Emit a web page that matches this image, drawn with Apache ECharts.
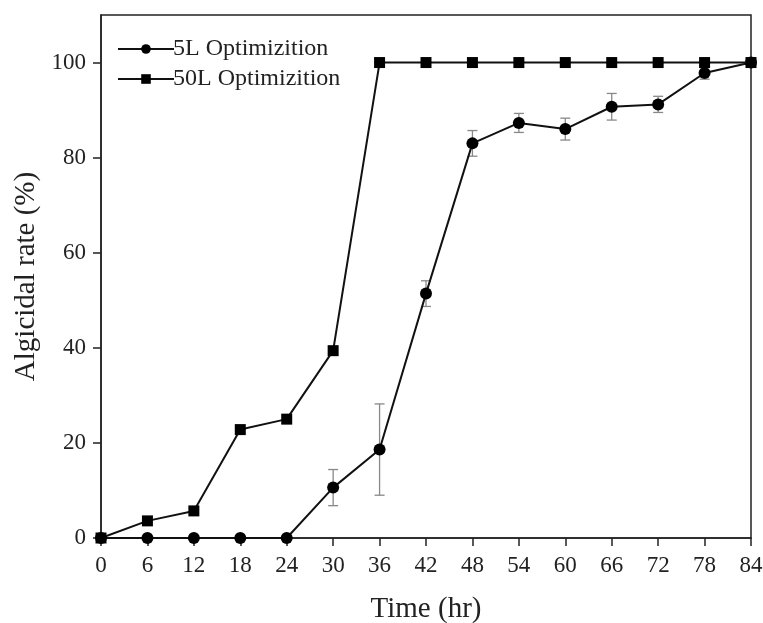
<!DOCTYPE html>
<html>
<head>
<meta charset="utf-8">
<script src="https://cdn.jsdelivr.net/npm/echarts@6/dist/echarts.min.js"></script>
<style>html,body{margin:0;padding:0;background:#fff;}#c{width:763px;height:623px;}</style>
</head>
<body>
<div id="c"></div>
<script>
var times = [0, 6, 12, 18, 24, 30, 36, 42, 48, 54, 60, 66, 72, 78, 84];
var rate5L = [0, 0, 0, 0, 0, 10.6, 18.6, 51.4, 83.0, 87.3, 86.0, 90.7, 91.2, 97.8, 100];
var err5L = [0, 0, 0, 0, 0, 3.8, 9.6, 2.7, 2.7, 2.0, 2.3, 2.8, 1.7, 1.3, 0];
var rate50L = [0, 3.6, 5.7, 22.8, 25.0, 39.4, 100, 100, 100, 100, 100, 100, 100, 100, 100];
var seriesNames = ['5L Optimizition', '50L Optimizition'];
var yTicks = [0, 20, 40, 60, 80, 100];

var FONT = '"Liberation Serif", "DejaVu Serif", serif';
var chart = echarts.init(document.getElementById('c'));

function pairs(xs, ys) { return xs.map(function (x, i) { return [x, ys[i]]; }); }
var errData = times.map(function (t, i) { return [t, rate5L[i] - err5L[i], rate5L[i] + err5L[i]]; })
  .filter(function (d) { return d[2] - d[1] > 0; });

chart.setOption({
  animation: false,
  backgroundColor: '#fff',
  grid: { left: 101, right: 12, top: 15, bottom: 85, outerBoundsMode: 'none', containLabel: false,
    show: true, borderColor: '#222', borderWidth: 1.5, backgroundColor: 'transparent' },
  legend: {
    left: 112, top: 32, orient: 'vertical', itemWidth: 56, itemHeight: 12, itemGap: 6,
    textStyle: { fontFamily: FONT, fontSize: 24, color: '#222', padding: [0, 0, 0, -6] },
    data: seriesNames
  },
  xAxis: {
    type: 'value', min: 0, max: 84, interval: 6,
    name: 'Time (hr)', nameLocation: 'middle', nameGap: 57,
    nameTextStyle: { fontFamily: FONT, fontSize: 29, color: '#222' },
    axisLine: { lineStyle: { color: '#222', width: 1.5 } },
    axisTick: { inside: false, length: 8, lineStyle: { color: '#222', width: 1.5 } },
    axisLabel: { fontFamily: FONT, fontSize: 23, color: '#222', margin: 16 },
    splitLine: { show: false }
  },
  yAxis: {
    type: 'value', min: 0, max: 110, interval: 20,
    name: 'Algicidal rate (%)', nameLocation: 'middle', nameGap: 53,
    nameTextStyle: { fontFamily: FONT, fontSize: 29, color: '#222' },
    axisLine: { lineStyle: { color: '#222', width: 1.5 } },
    axisTick: { inside: false, length: 8, customValues: yTicks, lineStyle: { color: '#222', width: 1.5 } },
    axisLabel: { fontFamily: FONT, fontSize: 23, color: '#222', margin: 15, customValues: yTicks },
    splitLine: { show: false }
  },
  series: [
    {
      type: 'custom', name: 'err', silent: true, z: 1,
      data: errData,
      renderItem: function (params, api) {
        var x = api.value(0);
        var lo = api.coord([x, api.value(1)]);
        var hi = api.coord([x, api.value(2)]);
        var w = 5;
        var st = { stroke: '#888', lineWidth: 1.3 };
        return { type: 'group', children: [
          { type: 'line', shape: { x1: lo[0], y1: lo[1], x2: hi[0], y2: hi[1] }, style: st },
          { type: 'line', shape: { x1: hi[0] - w, y1: hi[1], x2: hi[0] + w, y2: hi[1] }, style: st },
          { type: 'line', shape: { x1: lo[0] - w, y1: lo[1], x2: lo[0] + w, y2: lo[1] }, style: st }
        ]};
      }
    },
    {
      type: 'line', name: seriesNames[0], data: pairs(times, rate5L), z: 3,
      symbol: 'circle', symbolSize: 12, showAllSymbol: true,
      lineStyle: { color: '#111', width: 2 }, itemStyle: { color: '#000' }
    },
    {
      type: 'line', name: seriesNames[1], data: pairs(times, rate50L), z: 4,
      symbol: 'rect', symbolSize: 11, showAllSymbol: true,
      lineStyle: { color: '#111', width: 2 }, itemStyle: { color: '#000' }
    }
  ]
});
</script>
</body>
</html>
